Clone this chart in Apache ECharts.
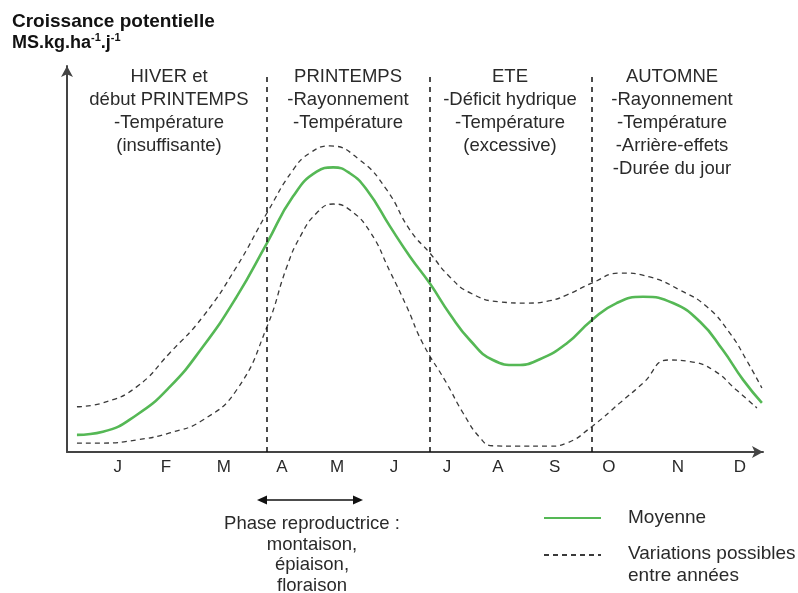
<!DOCTYPE html>
<html>
<head>
<meta charset="utf-8">
<script src="https://cdn.jsdelivr.net/npm/echarts@6/dist/echarts.min.js"></script>
<style>
  html, body { margin: 0; padding: 0; background: #fff; }
  #chart { width: 798px; height: 593px; }
</style>
</head>
<body>
<div id="chart"></div>
<script>
// Position along the year (month units) and relative potential growth.
const monthLabels = ['J', 'F', 'M', 'A', 'M', 'J', 'J', 'A', 'S', 'O', 'N', 'D'];
const monthPos = [0.92, 1.79, 2.84, 3.89, 4.89, 5.92, 6.88, 7.80, 8.83, 9.81, 11.06, 12.18];
const seasonBounds = [3.62, 6.57, 9.50];

const meanX = [0.18, 0.65, 1.26, 1.86, 2.46, 3.07, 3.62, 4.09, 4.52, 4.82, 5.12, 5.43, 5.85, 6.21, 6.57, 6.93, 7.30, 7.71, 8.14, 8.56, 9.05, 9.50, 9.95, 10.43, 10.97, 11.46, 11.87, 12.24, 12.58];
const meanY = [4.4, 5.2, 9.5, 16.7, 27.0, 39.8, 53.6, 65.5, 71.9, 73.0, 71.5, 67.2, 57.8, 50.1, 43.2, 35.4, 28.6, 23.6, 22.3, 23.8, 27.9, 33.8, 38.2, 39.8, 38.2, 33.4, 26.2, 18.5, 12.6];

const highX = [0.18, 0.65, 1.26, 1.86, 2.46, 3.07, 3.62, 4.09, 4.40, 4.76, 5.30, 5.79, 6.21, 6.57, 6.93, 7.30, 7.84, 8.32, 8.74, 9.05, 9.50, 10.01, 10.55, 11.10, 11.58, 12.00, 12.30, 12.58];
const highY = [11.6, 12.6, 16.7, 25.4, 34.7, 47.5, 61.3, 72.3, 76.7, 78.5, 74.9, 67.2, 56.9, 51.0, 44.9, 40.8, 38.5, 38.2, 38.8, 40.3, 43.3, 45.9, 44.9, 41.5, 37.3, 30.5, 23.6, 16.4];

const lowX = [0.18, 0.65, 1.26, 1.86, 2.46, 3.07, 3.62, 3.98, 4.22, 4.52, 4.82, 5.12, 5.49, 5.85, 6.15, 6.44, 6.87, 7.17, 7.48, 7.70, 8.14, 8.74, 9.05, 9.50, 10.01, 10.43, 10.88, 11.28, 11.70, 12.12, 12.49];
const lowY = [2.3, 2.3, 3.1, 4.9, 8.2, 15.9, 32.1, 47.5, 55.2, 61.3, 63.6, 62.1, 56.4, 46.2, 37.3, 27.9, 17.7, 10.0, 3.6, 1.6, 1.5, 1.5, 2.3, 6.5, 12.6, 17.7, 23.6, 23.2, 21.0, 15.9, 11.3];

const seasonTexts = [
  ['HIVER et', 'début PRINTEMPS', '-Température', '(insuffisante)'],
  ['PRINTEMPS', '-Rayonnement', '-Température'],
  ['ETE', '-Déficit hydrique', '-Température', '(excessive)'],
  ['AUTOMNE', '-Rayonnement', '-Température', '-Arrière-effets', '-Durée du jour']
];
const phaseText = ['Phase reproductrice :', 'montaison,', 'épiaison,', 'floraison'];
const meanName = 'Moyenne';
const varName = 'Variations possibles\nentre années';

const zip = (xs, ys) => xs.map((x, i) => [x, ys[i]]);
const FONT = 'Liberation Sans, Arial, sans-serif';
const TXT = '#2a2a2a';

const chart = echarts.init(document.getElementById('chart'), null, { renderer: 'canvas' });

// Season headers, centred in each band between the dividers.
const bandCenters = [169, 348, 510, 672];
const seasonGraphics = seasonTexts.map((lines, i) => ({
  type: 'text',
  x: bandCenters[i],
  y: 65,
  style: {
    text: lines.join('\n'),
    font: '18.5px ' + FONT,
    fill: TXT,
    align: 'center',
    verticalAlign: 'top',
    lineHeight: 23
  }
}));

const dashedStyle = { color: '#3a3a3a', width: 1.3, type: [5, 4] };

// Shared look of the two legend blocks (one entry each).
const legendFont = { fontSize: 19, fontFamily: FONT, color: TXT };
const legendBase = {
  orient: 'vertical',
  padding: 0,
  itemWidth: 57,
  itemHeight: 14,
  itemStyle: { color: 'transparent', borderWidth: 0, opacity: 0 },
  textStyle: Object.assign({ lineHeight: 24, padding: [0, 0, 0, 22] }, legendFont)
};

const option = {
  animation: false,
  backgroundColor: '#fff',
  grid: { left: 67, right: 35, top: 66, bottom: 141 },
  xAxis: {
    type: 'value',
    min: 0,
    max: 12.6,
    splitLine: { show: false },
    axisTick: { show: false },
    axisLine: {
      lineStyle: { color: '#444', width: 2 },
      symbol: ['none', 'arrow'],
      symbolSize: [9, 11]
    },
    axisLabel: {
      customValues: monthPos,
      formatter: v => {
        const i = monthPos.findIndex(p => Math.abs(p - v) < 1e-6);
        return i >= 0 ? monthLabels[i] : '';
      },
      margin: 7,
      fontSize: 17,
      fontFamily: FONT,
      color: TXT
    }
  },
  yAxis: {
    type: 'value',
    min: 0,
    max: 99,
    splitLine: { show: false },
    axisTick: { show: false },
    axisLabel: { show: false },
    axisLine: {
      show: true,
      lineStyle: { color: '#444', width: 2 },
      symbol: ['none', 'arrow'],
      symbolSize: [9, 11]
    }
  },
  legend: [
    Object.assign({}, legendBase, {
      left: 543,
      top: 506,
      data: [meanName]
    }),
    Object.assign({}, legendBase, {
      left: 543,
      top: 521,
      data: [varName],
      // first line sits level with the dashed sample, second line below it
      formatter: name => {
        const parts = name.split('\n');
        return '{a|' + parts[0] + '}\n{b|' + parts[1] + '}';
      },
      textStyle: Object.assign({}, legendBase.textStyle, {
        rich: {
          a: Object.assign({ lineHeight: 42, verticalAlign: 'bottom' }, legendFont),
          b: Object.assign({ lineHeight: 26 }, legendFont)
        }
      })
    })
  ],
  series: [
    {
      name: varName,
      type: 'line',
      smooth: 0.5,
      symbol: 'none',
      data: zip(highX, highY),
      lineStyle: dashedStyle,
      itemStyle: { color: '#3a3a3a' },
      markLine: {
        silent: true,
        symbol: ['none', 'none'],
        label: { show: false },
        lineStyle: { color: '#111', width: 1.5, type: [5, 5] },
        data: seasonBounds.map(b => [{ coord: [b, 0] }, { coord: [b, 96.5] }])
      },
      z: 2
    },
    {
      name: varName,
      type: 'line',
      smooth: 0.5,
      symbol: 'none',
      data: zip(lowX, lowY),
      lineStyle: dashedStyle,
      itemStyle: { color: '#3a3a3a' },
      z: 2
    },
    {
      name: meanName,
      type: 'line',
      smooth: 0.5,
      symbol: 'none',
      data: zip(meanX, meanY),
      lineStyle: { color: '#55b855', width: 2.6 },
      itemStyle: { color: '#55b855' },
      z: 3
    }
  ],
  graphic: [
    {
      type: 'text',
      left: 12,
      top: 12,
      style: {
        text: 'Croissance potentielle',
        font: 'bold 19px ' + FONT,
        fill: '#111'
      }
    },
    {
      type: 'text',
      left: 12,
      top: 32,
      style: {
        text: '{b|MS.kg.ha}{s|-1}{b|.j}{s|-1}',
        rich: {
          b: { font: 'bold 18px ' + FONT, fill: '#111', lineHeight: 20, verticalAlign: 'bottom' },
          s: { font: 'bold 11px ' + FONT, fill: '#111', lineHeight: 20, verticalAlign: 'top' }
        }
      }
    },
    ...seasonGraphics,
    // Double-headed arrow marking the reproductive phase
    {
      type: 'line',
      shape: { x1: 264, y1: 500, x2: 356, y2: 500 },
      style: { stroke: '#111', lineWidth: 1.6 }
    },
    {
      type: 'polygon',
      shape: { points: [[257, 500], [267, 495.5], [267, 504.5]] },
      style: { fill: '#111' }
    },
    {
      type: 'polygon',
      shape: { points: [[363, 500], [353, 495.5], [353, 504.5]] },
      style: { fill: '#111' }
    },
    {
      type: 'text',
      x: 312,
      y: 514,
      style: {
        text: phaseText.join('\n'),
        font: '18.5px ' + FONT,
        fill: TXT,
        align: 'center',
        verticalAlign: 'top',
        lineHeight: 20.5
      }
    }
  ]
};

chart.setOption(option);
</script>
</body>
</html>
